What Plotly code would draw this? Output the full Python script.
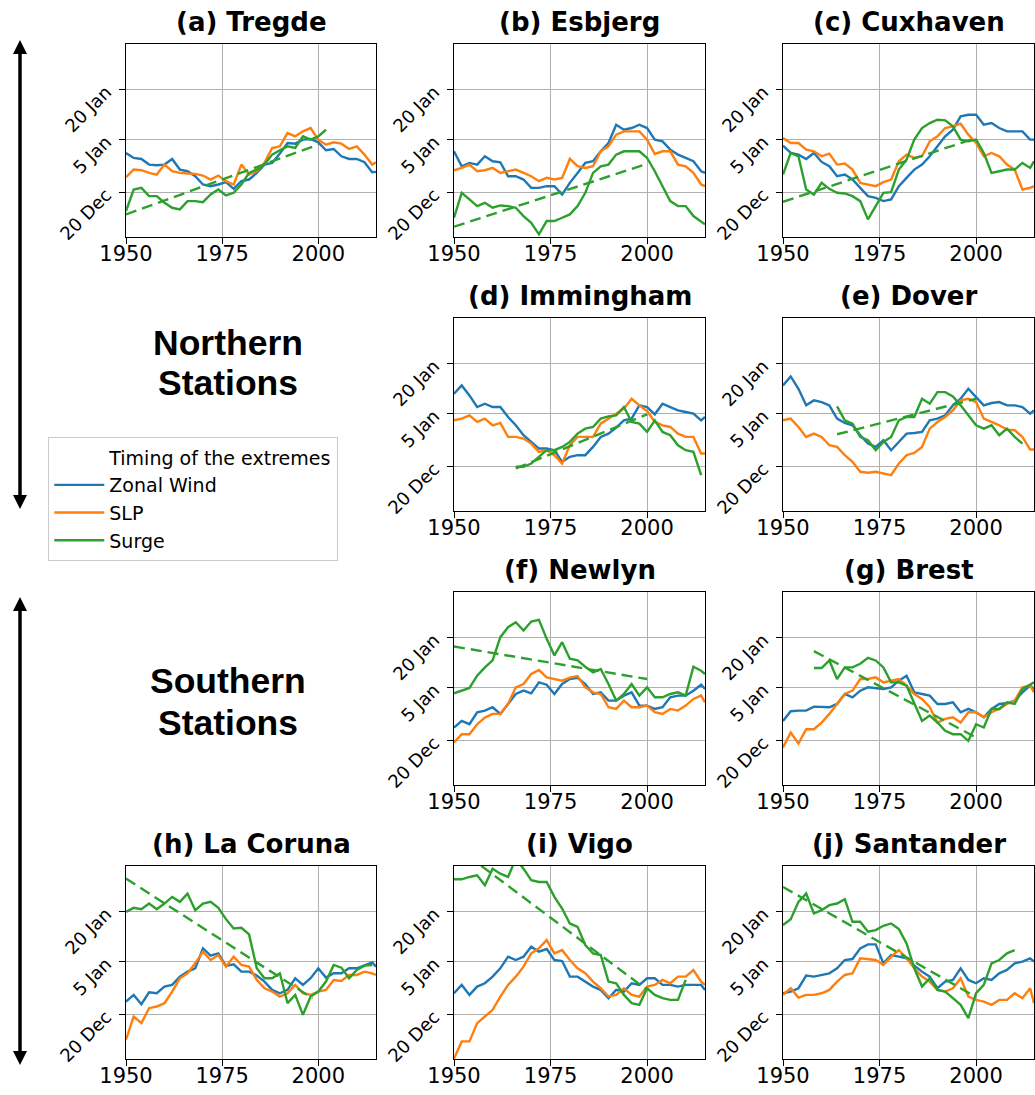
import plotly.graph_objects as go

# ---- data: timing of extremes, days relative to 1 Jan (20 Dec = -12, 5 Jan = 4, 20 Jan = 19)
years = [1950, 1952, 1954, 1956, 1958, 1960, 1962, 1964, 1966, 1968,
         1970, 1972, 1974, 1976, 1978, 1980, 1982, 1984, 1986, 1988,
         1990, 1992, 1994, 1996, 1998, 2000, 2002, 2004, 2006, 2008,
         2010, 2012, 2014, 2015]

stations = ["(a) Tregde", "(b) Esbjerg", "(c) Cuxhaven", "(d) Immingham", "(e) Dover",
            "(f) Newlyn", "(g) Brest", "(h) La Coruna", "(i) Vigo", "(j) Santander"]

wind_a = [0.0, -1.5, -1.8, -3.5, -3.7, -3.5, -1.8, -5.0, -5.5, -7.0,
          -9.5, -10.0, -9.5, -8.8, -10.8, -8.5, -8.0, -6.0, -3.5, -3.0,
          -0.2, 3.0, 2.8, 4.0, 4.2, 3.2, 0.8, 1.2, -1.0, -1.8,
          -1.8, -2.8, -5.8, -5.7]
slp_a = [-7.3, -5.0, -5.2, -6.0, -6.5, -3.5, -5.5, -6.0, -6.2, -6.3,
         -6.8, -8.0, -6.8, -8.5, -9.5, -3.5, -6.5, -5.5, -3.0, 1.5,
         2.0, 6.0, 5.0, 6.5, 7.5, 4.0, 2.5, 3.2, 2.8, 1.2,
         2.0, -0.5, -3.5, -2.8]
surge_a = [-17.5, -11.0, -10.5, -13.0, -13.0, -15.0, -16.5, -17.0, -14.5, -14.5,
           -14.8, -12.5, -11.0, -12.8, -12.0, -9.5, -6.0, -5.0, -3.5, -0.5,
           0.8, 2.0, 1.5, 5.0, 4.0, 5.0, 7.0, None, None, None,
           None, None, None, None]

wind_b = [0.5, -4.0, -3.0, -3.5, -1.0, -2.5, -2.8, -7.0, -7.0, -8.0,
          -10.5, -10.5, -10.0, -10.0, -12.5, -9.0, -6.0, -3.0, -2.5, 0.5,
          3.0, 8.5, 7.0, 7.5, 8.5, 7.5, 4.0, 3.5, 1.0, -0.5,
          -1.5, -2.5, -5.5, -6.0]
slp_b = [-5.2, -4.5, -3.5, -5.5, -5.2, -4.5, -6.0, -5.5, -5.0, -6.0,
         -7.0, -8.5, -7.5, -8.0, -7.5, -1.8, -4.0, -4.5, -4.0, 0.5,
         2.0, 5.5, 6.5, 6.5, 6.5, 4.0, -0.3, 0.5, 0.5, -3.5,
         -4.0, -6.0, -9.5, -10.0]
surge_b = [-19.5, -12.0, -14.0, -16.0, -15.0, -16.5, -15.8, -16.0, -16.5, -19.0,
           -21.0, -24.5, -20.5, -20.5, -19.5, -18.5, -16.0, -12.0, -6.0, -4.0,
           -3.5, -0.5, 0.5, 0.5, 0.5, -1.5, -5.5, -10.0, -14.5, -16.0,
           -16.0, -19.0, -20.5, -21.5]

wind_c = [2.2, 0.0, -0.5, -1.8, 0.0, -2.7, -4.0, -7.0, -6.5, -8.0,
          -10.5, -13.0, -13.5, -14.5, -14.0, -10.0, -7.5, -5.0, -3.5, -1.0,
          2.0, 5.0, 7.0, 11.0, 11.5, 11.5, 8.5, 9.0, 7.5, 6.5,
          6.5, 6.5, 4.0, 4.0]
slp_c = [4.5, 3.0, 3.0, 1.0, 0.5, -1.0, -0.2, -3.5, -3.2, -5.0,
         -9.0, -9.5, -10.0, -8.8, -8.0, -2.5, -0.5, -1.5, -1.0, 3.5,
         5.0, 7.5, 8.0, 8.8, 5.5, 3.0, -1.0, 0.0, -1.0, -3.5,
         -5.0, -11.0, -10.5, -10.0]
surge_c = [-6.5, 0.0, -1.0, -11.0, -12.5, -9.0, -10.8, -12.0, -12.2, -13.0,
           -14.5, -20.0, -16.0, -12.0, -11.8, -5.0, -2.0, 4.0, 7.5, 9.0,
           10.0, 9.8, 8.0, 4.0, 3.5, 4.0, 0.0, -6.0, -5.5, -5.0,
           -5.0, -3.0, -4.5, -2.5]

wind_d = [10.0, 12.5, 9.5, 6.0, 7.0, 6.0, 6.0, 3.0, 0.5, -2.5,
          -4.5, -6.5, -6.5, -7.0, -10.5, -9.0, -8.5, -8.5, -6.0, -3.0,
          -2.0, -0.2, 2.0, 2.5, 6.5, 6.0, 3.8, 7.0, 6.0, 5.0,
          4.5, 4.0, 2.0, 3.0]
slp_d = [2.0, 2.5, 3.5, 1.5, 2.5, 0.5, 1.2, -3.0, -3.0, -3.5,
         -5.0, -7.5, -7.0, -8.5, -11.0, -5.5, -3.0, -3.0, -3.0, 1.0,
         2.5, 4.0, 5.5, 8.5, 6.5, 4.8, 1.5, 0.5, 0.0, -2.0,
         -3.0, -3.0, -8.0, -8.0]
surge_d = [None, None, None, None, None, None, None, None, -12.0, -12.0,
           -11.0, -9.0, -7.0, -7.0, -6.0, -4.5, -2.0, -0.5, 0.0, 2.5,
           3.2, 3.5, 6.0, 1.5, 1.0, -1.5, 2.0, -1.5, -2.5, -5.5,
           -7.0, -7.5, -14.5, None]

wind_e = [12.5, 15.2, 11.5, 6.5, 8.0, 7.5, 6.5, 2.5, 1.2, 0.5,
          -2.5, -5.0, -6.0, -4.0, -7.0, -4.5, -2.0, -1.8, -1.5, 2.0,
          2.5, 3.5, 6.5, 8.5, 11.5, 9.0, 6.5, 7.2, 7.5, 6.5,
          6.5, 6.0, 4.0, 5.0]
slp_e = [2.0, 2.5, 0.0, -3.0, -2.0, -3.0, -5.5, -6.0, -8.5, -10.5,
         -13.5, -13.8, -13.5, -14.0, -14.5, -11.0, -8.5, -7.8, -6.0, -0.5,
         1.5, 3.0, 5.0, 8.0, 8.5, 7.5, 2.5, 1.5, 0.5, -0.8,
         -1.0, -3.0, -6.8, -6.8]
surge_e = [None, None, None, None, None, None, None, 6.2, 2.0, 1.0,
           -3.0, -4.0, -7.0, -4.5, -3.0, 2.0, 3.0, 3.0, 8.5, 7.0,
           10.5, 10.5, 9.2, 6.5, 3.5, 0.5, -0.5, 0.5, -2.5, -0.5,
           -3.0, -5.0, None, None]

wind_f = [-8.0, -6.0, -7.0, -3.4, -2.9, -1.9, -3.9, -0.9, 2.1, 3.1,
          2.3, 5.6, 4.9, 2.1, 5.1, 6.6, 7.0, 5.1, 2.1, 2.6,
          0.1, 0.1, 1.6, 2.6, -1.4, -1.4, -2.4, -1.9, 1.1, 1.6,
          1.6, 3.1, 4.9, 3.6]
slp_f = [-12.5, -10.0, -10.0, -7.0, -5.0, -3.9, -3.9, -0.9, 4.1, 5.1,
         8.1, 9.3, 7.1, 6.6, 6.1, 7.0, 7.5, 4.1, 2.6, 2.1,
         -1.9, -2.4, 0.1, -1.9, -1.9, -1.4, -3.4, -3.9, -2.4, -2.9,
         -1.4, 0.6, 1.6, -0.4]
surge_f = [2.3, 3.1, 3.9, 7.6, 10.1, 12.2, 19.2, 22.2, 23.7, 21.2,
           23.9, 24.4, 18.7, 13.7, 17.7, 12.7, 12.2, 10.3, 8.6, 9.6,
           5.1, 0.1, 2.1, 5.1, 1.6, 4.1, 1.1, 1.1, 2.1, 2.6,
           1.6, 10.3, 9.1, 8.1]

wind_g = [-6.0, -3.1, -2.9, -2.9, -1.7, -1.9, -1.9, -0.9, 2.1, 1.1,
          3.1, 4.1, 3.8, 3.6, 4.1, 6.1, 7.6, 2.6, 2.1, 1.6,
          -0.9, -0.9, -0.4, -3.4, -2.4, -3.4, -4.9, -2.4, -0.9, -0.7,
          0.1, 2.6, 4.6, 3.6]
slp_g = [-14.0, -9.5, -12.8, -8.5, -8.5, -6.5, -3.9, -0.9, 2.1, 3.1,
         6.6, 6.6, 7.1, 5.6, 6.1, 6.6, 4.6, 2.1, 0.6, -1.9,
         -6.5, -5.4, -4.9, -6.5, -3.4, -3.4, -4.9, -3.4, -2.4, -0.9,
         0.1, 4.1, 4.6, 2.6]
surge_g = [None, None, None, None, 9.9, 9.9, 12.2, 6.6, 10.1, 10.1,
           11.2, 13.0, 12.2, 10.1, 5.6, 5.6, 4.6, -0.9, -6.0, -4.4,
           -6.5, -9.0, -10.0, -10.0, -12.0, -7.0, -8.0, -2.4, -2.4, -0.4,
           -0.9, 3.6, 5.1, 5.6]

wind_h = [-8.0, -6.0, -8.8, -5.2, -5.5, -3.5, -3.0, -0.5, 1.0, 2.0,
          8.0, 5.8, 6.5, 2.7, 3.2, 1.0, 1.0, -0.2, -2.0, -4.5,
          -5.5, -4.5, -1.0, -3.0, -1.0, 2.0, -0.8, 0.5, 0.5, 2.0,
          2.0, 3.0, 3.8, 2.5]
slp_h = [-19.5, -12.5, -14.5, -10.0, -9.5, -8.5, -5.0, -1.0, 0.5, 3.5,
         7.0, 4.5, 6.0, 2.5, 5.5, 3.0, 2.5, -1.5, -4.0, -5.0,
         -6.5, -5.5, -3.0, -5.5, -6.0, -5.0, -4.5, -1.5, -1.8, 0.0,
         0.0, 1.0, 0.5, 0.0]
surge_h = [19.0, 20.2, 19.8, 21.5, 19.8, 21.5, 23.5, 22.0, 24.5, 19.5,
           21.5, 22.0, 20.2, 16.8, 14.0, 14.2, 12.2, 2.0, -1.0, -1.0,
           0.5, -8.5, -6.0, -12.0, -6.5, -5.0, -2.0, 3.0, 2.2, -1.0,
           1.5, 2.8, 3.0, None]

wind_i = [-5.5, -3.0, -6.0, -3.5, -2.5, -0.5, 2.0, 5.5, 4.5, 5.5,
          8.5, 7.0, 7.8, 4.5, 4.2, -0.5, -0.5, -2.0, -3.5, -4.5,
          -7.0, -4.5, -5.0, -2.5, -3.0, -1.0, -1.0, -3.0, -3.0, -3.5,
          -3.0, -3.0, -3.0, -4.5]
slp_i = [-25.2, -20.0, -20.0, -14.5, -12.5, -10.5, -6.5, -3.0, -0.5, 2.5,
         6.5, 8.0, 10.5, 6.5, 7.5, 4.5, 2.0, 0.5, -2.0, -4.0,
         -6.5, -6.0, -4.0, -6.0, -6.5, -3.5, -3.0, -1.5, -2.5, -0.5,
         -0.5, 1.5, -2.0, -3.0]
surge_i = [28.8, 28.8, 29.5, 30.0, 27.0, 32.0, 30.5, 29.5, 35.0, 32.0,
           28.5, 28.0, 28.0, 23.5, 20.0, 15.5, 14.5, 9.0, 6.5, 6.0,
           -2.0, -2.5, -6.0, -8.5, -9.0, -4.0, -6.0, -7.0, -7.5, -7.5,
           -1.5, None, None, None]

wind_j = [-5.5, -5.0, -4.0, -0.2, -0.5, 0.0, 0.5, 2.0, 4.5, 4.8,
          8.0, 9.2, 9.2, 3.5, 6.0, 5.5, 5.0, 2.8, 1.0, -0.5,
          -4.0, -2.0, -1.5, 2.0, -1.5, -2.5, -1.0, -1.5, 0.5, 1.5,
          3.5, 4.0, 5.0, 4.0]
slp_j = [-6.0, -4.0, -6.8, -6.0, -6.0, -5.5, -4.5, -2.0, 0.0, 0.5,
         5.0, 4.8, 4.5, 3.0, 5.5, 7.5, 5.0, 2.0, -0.5, -2.0,
         -4.5, -5.0, -4.0, -1.0, -6.5, -7.5, -8.0, -9.0, -7.5, -7.5,
         -5.5, -7.0, -4.0, -8.5]
surge_j = [15.0, 16.8, 22.0, 24.5, 18.5, 19.5, 21.0, 21.5, 22.8, 16.0,
           16.0, 13.0, 13.5, 14.8, 15.5, 13.8, 9.5, 2.0, -3.5, -1.0,
           -4.5, -5.0, -7.0, -9.0, -13.0, -5.5, -3.0, 3.5, 4.5, 6.5,
           7.5, None, None, None]

# linear trend of the surge timing (start/end of dashed line)
trend_year0 = [1950, 1950, 1950, 1966, 1964, 1950, 1958, 1950, 1950, 1950]
trend_year1 = [2000, 2000, 2000, 2000, 2000, 2000, 2000, 1998.5, 2000, 1999]
trend_val0 = [-18.5, -22.2, -14.7, -12.5, -2.2, 16.4, 15.0, 29.0, 39.0, 26.5]
trend_val1 = [2.5, -3.3, 4.5, 3.8, 8.5, 6.6, -11.0, -7.0, -4.5, -6.0]

tick_days = [-12, 4, 19]
tick_names = ["20 Dec", "5 Jan", "20 Jan"]

wind = [wind_a, wind_b, wind_c, wind_d, wind_e, wind_f, wind_g, wind_h, wind_i, wind_j]
slp = [slp_a, slp_b, slp_c, slp_d, slp_e, slp_f, slp_g, slp_h, slp_i, slp_j]
surge = [surge_a, surge_b, surge_c, surge_d, surge_e, surge_f, surge_g, surge_h, surge_i, surge_j]

BLUE, ORANGE, GREEN = "#1f77b4", "#ff7f0e", "#2ca02c"
W, H = 1035, 1095

# panel grid positions (row, col) and pixel boxes
panel_rows = [0, 0, 0, 1, 1, 2, 2, 3, 3, 3]
panel_cols = [0, 1, 2, 1, 2, 1, 2, 0, 1, 2]
col_px = [(126, 376), (454, 705), (783, 1034)]
row_top = [44, 318, 592, 866]
PH = 193


def fx(px):
    return px / W


def fy(py):
    return 1 - py / H


fig = go.Figure()

# dummy entry so the legend title sits in line with the labels
fig.add_trace(go.Scatter(x=[None], y=[None], mode="lines", name="Timing of the extremes",
                         line=dict(width=0, color="white"), xaxis="x", yaxis="y"))

axis_common = dict(showline=True, linecolor="black", linewidth=1.3, mirror=True,
                   ticks="outside", ticklen=6, tickwidth=1.3, tickcolor="black",
                   showgrid=True, gridcolor="#b0b0b0", gridwidth=1.2, zeroline=False,
                   automargin=False)

annotations = []
for i in range(10):
    n = i + 1
    xs = "x" if n == 1 else f"x{n}"
    ys = "y" if n == 1 else f"y{n}"
    first = i == 0
    fig.add_trace(go.Scatter(x=years, y=wind[i], mode="lines", name="Zonal Wind",
                             line=dict(color=BLUE, width=2.4), xaxis=xs, yaxis=ys,
                             showlegend=first))
    fig.add_trace(go.Scatter(x=years, y=slp[i], mode="lines", name="SLP",
                             line=dict(color=ORANGE, width=2.4), xaxis=xs, yaxis=ys,
                             showlegend=first))
    fig.add_trace(go.Scatter(x=years, y=surge[i], mode="lines", name="Surge",
                             line=dict(color=GREEN, width=2.4), xaxis=xs, yaxis=ys,
                             showlegend=first))
    fig.add_trace(go.Scatter(x=[trend_year0[i], trend_year1[i]], y=[trend_val0[i], trend_val1[i]],
                             mode="lines", line=dict(color=GREEN, width=2.4, dash="11px,6px"),
                             xaxis=xs, yaxis=ys, showlegend=False))

    x0, x1 = col_px[panel_cols[i]]
    top = row_top[panel_rows[i]]
    xa = "xaxis" if n == 1 else f"xaxis{n}"
    ya = "yaxis" if n == 1 else f"yaxis{n}"
    fig.update_layout({
        xa: dict(axis_common, domain=[fx(x0), fx(x1)], range=[1950, 2015], anchor=ys,
                 tickvals=[1950, 1975, 2000], ticklabelstandoff=-8,
                 tickfont=dict(family="DejaVu Sans", size=21, color="black")),
        ya: dict(axis_common, domain=[fy(top + PH), fy(top)], range=[-25.3, 32.8], anchor=xs,
                 tickvals=tick_days, ticktext=tick_names, tickangle=-45, ticklabelstandoff=9,
                 tickfont=dict(family="DejaVu Sans", size=18, color="black")),
    })
    annotations.append(dict(text=f"<b>{stations[i]}</b>", x=fx((x0 + x1) / 2), y=fy(top - 22),
                            xref="paper", yref="paper", showarrow=False,
                            xanchor="center", yanchor="middle",
                            font=dict(family="DejaVu Sans", size=26, color="black")))

# group labels
for txt, py in [("Northern", 343), ("Stations", 383), ("Southern", 681), ("Stations", 723)]:
    annotations.append(dict(text=f"<b>{txt}</b>", x=fx(228), y=fy(py), xref="paper", yref="paper",
                            showarrow=False, xanchor="center", yanchor="middle",
                            font=dict(family="Liberation Sans", size=35.5, color="black")))

# double headed arrows on the left
shapes = []
for tip_top, tip_bot in [(40, 509), (597, 1065)]:
    shapes.append(dict(type="line", xref="paper", yref="paper", x0=fx(20), x1=fx(20),
                       y0=fy(tip_top + 8), y1=fy(tip_bot - 8), line=dict(color="black", width=3.5)))
    shapes.append(dict(type="path", xref="paper", yref="paper", fillcolor="black",
                       line=dict(width=0),
                       path=f"M {fx(13)},{fy(tip_top + 14)} L {fx(20)},{fy(tip_top)} "
                            f"L {fx(27)},{fy(tip_top + 14)} Z"))
    shapes.append(dict(type="path", xref="paper", yref="paper", fillcolor="black",
                       line=dict(width=0),
                       path=f"M {fx(13)},{fy(tip_bot - 14)} L {fx(20)},{fy(tip_bot)} "
                            f"L {fx(27)},{fy(tip_bot - 14)} Z"))

fig.update_layout(
    width=W, height=H,
    margin=dict(l=0, r=0, t=0, b=0, autoexpand=False),
    paper_bgcolor="white", plot_bgcolor="white",
    annotations=annotations, shapes=shapes,
    legend=dict(x=fx(48), y=fy(437), xanchor="left", yanchor="top",
                bgcolor="white", bordercolor="#cccccc", borderwidth=1.3,
                font=dict(family="DejaVu Sans", size=19, color="black"),
                tracegroupgap=0, itemwidth=50),
)

# drop the default page margin so the figure sits at the window corner
fig.write_html("out.html", config={"displayModeBar": False},
               post_script="document.body.style.margin = '0';")
